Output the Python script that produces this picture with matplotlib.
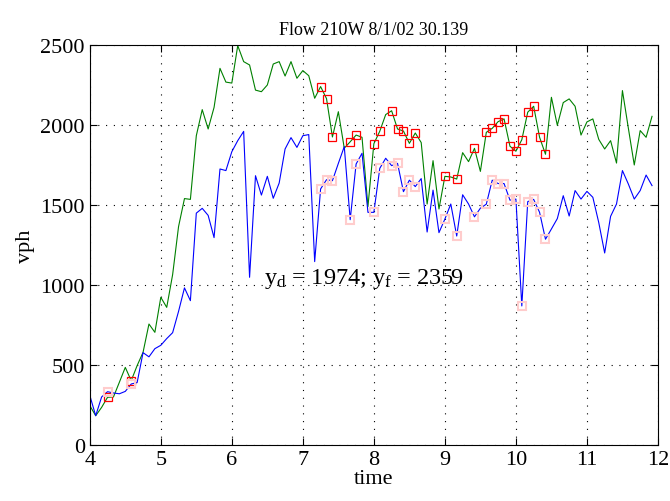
import numpy as np
import matplotlib
matplotlib.use("Agg")
import matplotlib.pyplot as plt

plt.rcParams['font.family'] = ['Liberation Serif', 'DejaVu Serif']
plt.rcParams['mathtext.fontset'] = 'custom'
plt.rcParams['mathtext.rm'] = 'Liberation Serif'
plt.rcParams['mathtext.it'] = 'Liberation Serif'

# 5-minute samples from 4:00 on
t_start = 4.0
step_hr = 1.0 / 12

flow_f = [246, 183, 235, 298, 300, 392, 485, 402, 496, 579, 756, 704, 923, 860,
          1065, 1365, 1540, 1535, 1933, 2096, 1975, 2110, 2354, 2268, 2262, 2496,
          2396, 2375, 2218, 2208, 2250, 2381, 2396, 2306, 2396, 2292, 2340, 2308,
          2167, 2240, 2165, 1925, 2083, 1855, 1895, 1937, 1923, 1490, 1883, 1961,
          2065, 2089, 1975, 1962, 1885, 1950, 1890, 1506, 1777, 1475, 1679, 1675,
          1662, 1827, 1771, 1854, 1710, 1954, 1979, 2021, 2038, 1867, 1836, 1908,
          2080, 2117, 1923, 1817, 2173, 1998, 2140, 2163, 2117, 1937, 2019, 2038,
          1910, 1850, 1902, 1762, 2215, 1980, 1750, 1965, 1923, 2054]

flow_d = [310, 183, 300, 333, 325, 320, 335, 381, 390, 577, 551, 602, 623, 665,
          702, 835, 982, 902, 1449, 1479, 1435, 1296, 1725, 1715, 1833, 1902,
          1960, 1048, 1683, 1562, 1679, 1542, 1637, 1850, 1921, 1860, 1933, 1940,
          1146, 1600, 1658, 1652, 1760, 1865, 1408, 1756, 1823, 1454, 1454, 1729,
          1792, 1746, 1760, 1583, 1655, 1615, 1665, 1331, 1593, 1327, 1412, 1506,
          1306, 1564, 1506, 1426, 1480, 1505, 1655, 1634, 1634, 1530, 1537, 869,
          1521, 1535, 1454, 1286, 1350, 1415, 1558, 1431, 1590, 1537, 1585, 1548,
          1390, 1200, 1429, 1506, 1715, 1631, 1537, 1590, 1687, 1621]

# flagged samples
flagged = [3, 7, 39, 40, 41, 44, 45, 48, 49, 51, 52, 53, 54, 55, 60, 62, 65,
           67, 68, 69, 70, 71, 72, 73, 74, 75, 76, 77]

t = t_start + step_hr * np.arange(len(flow_f))
f = np.array(flow_f)
d = np.array(flow_d)

fig = plt.figure(figsize=(6.7, 5.02), dpi=100)
ax = fig.add_axes([0.134, 0.1116, 0.848, 0.7968])

ax.plot(t, f, color=(0, 0.5, 0), lw=0.8)
ax.plot(t, d, color=(0, 0, 1), lw=0.8)
ax.plot(t[flagged], f[flagged], 's', mfc='none', mec='red', ms=6, mew=0.9)
ax.plot(t[flagged], d[flagged], 's', mfc='none', mec=(1, 0.8, 0.8), ms=6, mew=1.5)

ax.text(6.46, 1010, r'$y_d$ = 1974; $y_f$ = 2359', fontsize=17.5, va='baseline')

ax.set_xlim(4, 12)
ax.set_ylim(0, 2500)
ax.set_xticks(range(4, 13))
ax.set_yticks(range(0, 2501, 500))
ax.grid(True, linestyle=(0, (1, 6)), color='black', lw=0.8)
ax.tick_params(direction='in', top=True, right=True, labelsize=16, length=5, width=0.8)
for s in ax.spines.values():
    s.set_linewidth(0.8)

ax.set_title('Flow 210W 8/1/02 30.139', fontsize=13, pad=8)
ax.set_xlabel('time', fontsize=16, labelpad=0)
ax.set_ylabel('vph', fontsize=16, labelpad=4)

fig.savefig('out.png', dpi=100)
